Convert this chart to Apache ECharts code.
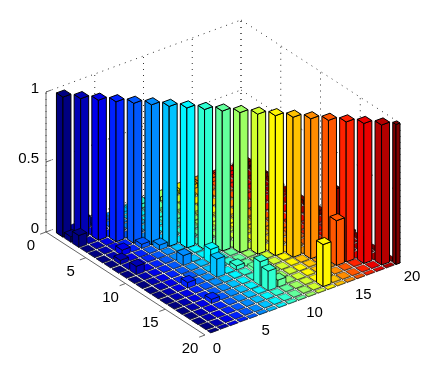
<!DOCTYPE html>
<html>
<head>
<meta charset="utf-8">
<title>bar3</title>
<script src="https://cdn.jsdelivr.net/npm/echarts@6/dist/echarts.min.js"></script>
<style>
  html, body { margin: 0; padding: 0; background: #fff; }
  #main { width: 447px; height: 390px; }
</style>
</head>
<body>
<div id="main"></div>
<script>
// tick labels
var xTicks = [0, 5, 10, 15, 20];
var yTicks = [0, 5, 10, 15, 20];
var zTicks = [0, 0.5, 1];

// bar heights, one list per row (y = 1..20), each holds x = 1..20
var row1  = [1, .02, .08, .02, .01, .01, .02, .02, .03, .02, .03, .03, .035, .03, .035, .03, .03, .03, .025, .05];
var row2  = [.04, 1, .006, .003, .006, .003, .003, .006, .006, .01, .006, .006, .01, .01, .006, .01, .006, .01, .006, .03];
var row3  = [.085, .003, 1, .003, .006, .003, .006, .003, .006, .006, .01, .006, .006, .01, .006, .006, .01, .006, .01, .04];
var row4  = [.003, .003, .003, 1, .003, .006, .003, .006, .01, .006, .006, .01, .006, .006, .01, .006, .006, .01, .006, .02];
var row5  = [.003, .003, .006, .003, 1, .003, .006, .003, .006, .01, .006, .006, .01, .006, .006, .01, .01, .006, .006, .03];
var row6  = [.001, .003, .04, .003, .03, 1, .003, .006, .003, .006, .01, .006, .006, .01, .006, .006, .01, .006, .01, .02];
var row7  = [.003, .03, .003, .003, .003, .035, 1, .003, .006, .003, .006, .01, .006, .006, .01, .006, .006, .01, .006, .035];
var row8  = [.001, .003, .003, .006, .003, .003, .006, 1, .003, .006, .003, .006, .01, .006, .01, .006, .01, .006, .006, .03];
var row9  = [.003, .06, .003, .003, .006, .003, .003, .006, 1, .003, .006, .003, .006, .01, .006, .006, .006, .01, .006, .02];
var row10 = [.001, .003, .003, .003, .003, .07, .003, .006, .006, 1, .003, .006, .003, .006, .01, .006, .01, .006, .006, .035];
var row11 = [.003, .003, .001, .003, .003, .003, .006, .1, .003, .006, 1, .003, .006, .003, .006, .01, .006, .006, .01, .02];
var row12 = [.001, .003, .003, .001, .006, .003, .003, .006, .006, .003, .006, 1, .003, .006, .003, .006, .006, .01, .006, .26];
var row13 = [.003, .001, .003, .04, .003, .003, .13, .003, .03, .006, .003, .006, 1, .003, .006, .003, .006, .006, .01, .02];
var row14 = [.001, .003, .001, .003, .003, .006, .003, .006, .003, .025, .006, .003, .006, 1, .003, .006, .003, .006, .006, .03];
var row15 = [.003, .001, .003, .001, .003, .003, .003, .003, .006, .003, .006, .003, .006, .003, 1, .003, .006, .003, .006, .02];
var row16 = [.001, .003, .001, .03, .003, .003, .003, .003, .17, .006, .003, .006, .003, .006, .003, 1, .003, .006, .003, .015];
var row17 = [.003, .001, .003, .001, .003, .003, .003, .006, .14, .05, .006, .003, .006, .003, .006, .32, 1, .003, .006, .01];
var row18 = [.001, .003, .001, .003, .001, .003, .003, .003, .003, .006, .003, .006, .003, .003, .003, .003, .006, 1, .003, .02];
var row19 = [.003, .001, .003, .001, .003, .001, .003, .003, .003, .003, .006, .003, .3, .006, .003, .003, .003, .003, 1, .01];
var row20 = [.001, .003, .001, .003, .001, .003, .001, .003, .003, .003, .003, .003, .003, .003, .003, .003, .003, .003, .003, 1];
var rows = [row1, row2, row3, row4, row5, row6, row7, row8, row9, row10,
            row11, row12, row13, row14, row15, row16, row17, row18, row19, row20];

// jet, one colour per column
var jet = ['#000080', '#0000b5', '#0000eb', '#0021ff', '#0057ff', '#008cff', '#00c2ff', '#00f7ff', '#2effd1', '#63ff9c',
           '#9cff63', '#d1ff2e', '#fff700', '#ffc200', '#ff8c00', '#ff5700', '#ff2100', '#eb0000', '#b50000', '#800000'];

// oblique view: where one unit of x, y, z lands on the plot plane
var ORIGIN = [46, 232];
var EX = [9.75, -3.6];
var EY = [7.95, 5.15];
var EZ = -140;
var XMAX = 20, YMAX = 20, ZMAX = 1;
var HALF = 0.41;

function project(x, y, z) {
  return [ORIGIN[0] + x * EX[0] + y * EY[0], ORIGIN[1] + x * EX[1] + y * EY[1] + z * EZ];
}

// back to front for the painter
var cells = [];
rows.forEach(function (row, j) {
  row.forEach(function (h, i) {
    cells.push([i + 1, j + 1, h]);
  });
});
cells.sort(function (a, b) { return (a[1] - a[0]) - (b[1] - b[0]); });

function renderBar(params, api) {
  var x = api.value(0), y = api.value(1), z = api.value(2);
  var x0 = x - HALF, x1 = Math.min(x + HALF, XMAX);
  var y0 = y - HALF, y1 = Math.min(y + HALF, YMAX);
  // low bars look washed out in the original, only the tall ones have a full black edge
  var edge = z > 0.2 ? 1 : (z > 0.025 ? 0.7 : 0.4);
  function pt(a, b, c) { return api.coord(project(a, b, c)); }
  function face(points) {
    return {
      type: 'polygon',
      shape: { points: points },
      style: { fill: jet[x - 1], stroke: '#000', lineWidth: edge }
    };
  }
  return {
    type: 'group',
    children: [
      face([pt(x0, y0, 0), pt(x0, y1, 0), pt(x0, y1, z), pt(x0, y0, z)]),
      face([pt(x0, y1, 0), pt(x1, y1, 0), pt(x1, y1, z), pt(x0, y1, z)]),
      face([pt(x0, y0, z), pt(x1, y0, z), pt(x1, y1, z), pt(x0, y1, z)])
    ]
  };
}

// box: dotted walls behind the bars
var wallLines = [];
zTicks.forEach(function (z) {
  wallLines.push([[0, 0, z], [XMAX, 0, z]]);
  wallLines.push([[XMAX, 0, z], [XMAX, YMAX, z]]);
});
xTicks.forEach(function (t) {
  wallLines.push([[t, 0, 0], [t, 0, ZMAX]]);
});
yTicks.forEach(function (t) {
  wallLines.push([[XMAX, t, 0], [XMAX, t, ZMAX]]);
});

// solid axis lines and tick marks
var axisLines = [
  [[0, 0, 0], [0, 0, ZMAX]],
  [[0, 0, 0], [0, YMAX, 0]]
];
yTicks.forEach(function (t) { axisLines.push([[0, t, 0], [-0.6, t, 0]]); });
zTicks.forEach(function (t) { axisLines.push([[0, 0, t], [0.5, 0, t]]); });

function lineSeries(list, style) {
  return {
    type: 'custom',
    coordinateSystem: 'cartesian2d',
    silent: true,
    data: list.map(function (l, k) { return [k]; }),
    renderItem: function (params, api) {
      var l = list[api.value(0)];
      var a = api.coord(project(l[0][0], l[0][1], l[0][2]));
      var b = api.coord(project(l[1][0], l[1][1], l[1][2]));
      return {
        type: 'line',
        shape: { x1: a[0], y1: a[1], x2: b[0], y2: b[1] },
        style: style
      };
    }
  };
}

// tick labels as text next to their tick
var labels = [];
yTicks.forEach(function (t) {
  var p = project(0, t, 0);
  labels.push([p[0] - 15, p[1] + 14, String(t), 'center']);
});
xTicks.forEach(function (t) {
  var p = project(t, YMAX, 0);
  labels.push([p[0] + 12, p[1] + 14, String(t), 'center']);
});
zTicks.forEach(function (t) {
  var p = project(0, 0, t);
  labels.push([p[0] - 7, p[1] - 3, String(t), 'right']);
});

var myChart = echarts.init(document.getElementById('main'), null, { renderer: 'canvas' });

myChart.setOption({
  animation: false,
  backgroundColor: '#fff',
  grid: { left: 0, top: 0, width: 447, height: 390 },
  xAxis: { type: 'value', min: 0, max: 447, show: false },
  yAxis: { type: 'value', min: 0, max: 390, inverse: true, show: false },
  series: [
    lineSeries(wallLines, { stroke: '#333', lineWidth: 1, lineDash: [1, 5] }),
    lineSeries(axisLines, { stroke: '#666', lineWidth: 1 }),
    {
      type: 'custom',
      coordinateSystem: 'cartesian2d',
      silent: true,
      progressive: 0,
      encode: { x: 0, y: 1 },
      data: cells,
      renderItem: renderBar
    },
    {
      type: 'custom',
      coordinateSystem: 'cartesian2d',
      silent: true,
      data: labels.map(function (l, k) { return [l[0], l[1], k]; }),
      renderItem: function (params, api) {
        var l = labels[api.value(2)];
        var p = api.coord([l[0], l[1]]);
        return {
          type: 'text',
          x: p[0],
          y: p[1],
          style: {
            text: l[2],
            fill: '#000',
            font: '15px "Liberation Sans", Arial, sans-serif',
            textAlign: l[3],
            textVerticalAlign: 'middle'
          }
        };
      }
    }
  ]
});
</script>
</body>
</html>
